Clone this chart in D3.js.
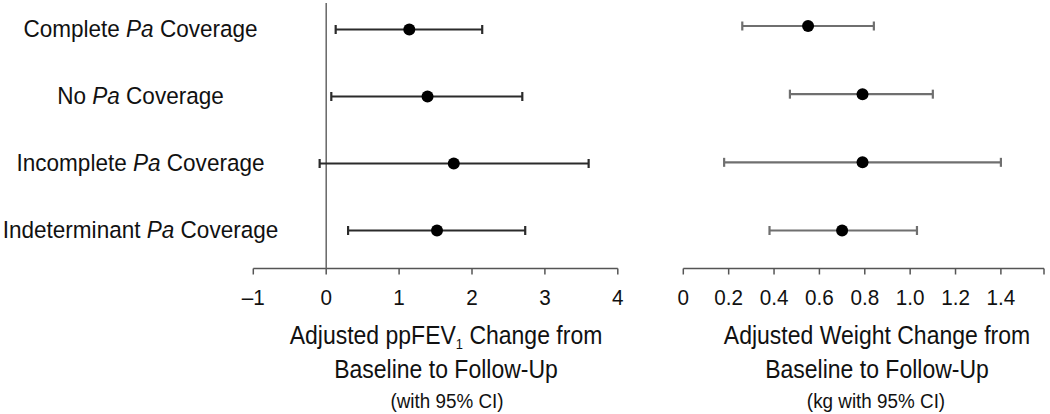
<!DOCTYPE html>
<html>
<head>
<meta charset="utf-8">
<script src="https://cdn.jsdelivr.net/npm/d3@7"></script>
<style>
  html, body { margin: 0; padding: 0; background: #fff; }
  svg { display: block; }
  text { font-family: "Liberation Sans", Arial, Helvetica, sans-serif; fill: #111; }
</style>
</head>
<body>
<svg id="chart" width="1050" height="414"></svg>
<script>
// ---- data ----
const categories = ["Complete", "No", "Incomplete", "Indeterminant"];
const fevEstimate = [1.14, 1.39, 1.75, 1.52];
const fevLower    = [0.13, 0.07, -0.09, 0.30];
const fevUpper    = [2.14, 2.69, 3.60, 2.73];
const wtEstimate  = [0.55, 0.79, 0.79, 0.70];
const wtLower     = [0.26, 0.47, 0.18, 0.38];
const wtUpper     = [0.84, 1.10, 1.40, 1.03];
const fevTicks = [-1, 0, 1, 2, 3, 4];
const fevTickLabels = ["\u20131", "0", "1", "2", "3", "4"];
const wtTicks = [0, 0.2, 0.4, 0.6, 0.8, 1.0, 1.2, 1.4];
const wtTickLabels = ["0", "0.2", "0.4", "0.6", "0.8", "1.0", "1.2", "1.4"];
const wtAxisMax = 1.59;

const svg = d3.select("#chart");
const axisY = 268.5;
const SX = 0.92; // horizontal condensing to mimic narrow font

function ctext(parent, x, y, size) {
  return parent.append("text")
    .attr("transform", `translate(${x},${y}) scale(${SX},1)`)
    .attr("text-anchor", "middle").style("font-size", size + "px");
}

// category labels
const yLeft = d3.scalePoint().domain(categories).range([29.5, 230.5]);
const yRight = d3.scalePoint().domain(categories).range([26, 230.5]);

const labG = svg.append("g");
categories.forEach(c => {
  const t = ctext(labG, 140.5, yLeft(c) + 7.5, 24.5);
  t.append("tspan").text(c + " ");
  t.append("tspan").style("font-style", "italic").text("Pa");
  t.append("tspan").text(" Coverage");
});

function panel(xScale, ticks, tickLabels, yScale, est, lo, hi, barColor, zeroLine, extraTicks) {
  const g = svg.append("g");
  const [r0, r1] = xScale.range();
  g.append("line").attr("x1", r0).attr("x2", r1).attr("y1", axisY).attr("y2", axisY)
    .attr("stroke", "#555").attr("stroke-width", 1.5);
  const allTicks = ticks.concat(extraTicks);
  g.selectAll(".tk").data(allTicks).join("line").attr("class", "tk")
    .attr("x1", d => xScale(d)).attr("x2", d => xScale(d))
    .attr("y1", axisY).attr("y2", axisY + 6)
    .attr("stroke", "#555").attr("stroke-width", 1.5);
  ticks.forEach((d, i) => {
    ctext(g, xScale(d), 305, 22.5).text(tickLabels[i]);
  });
  if (zeroLine) {
    g.append("line").attr("x1", xScale(0)).attr("x2", xScale(0))
      .attr("y1", 3).attr("y2", axisY)
      .attr("stroke", "#666").attr("stroke-width", 1.5);
  }
  const rows = g.selectAll(".row").data(categories).join("g").attr("class", "row");
  rows.append("line")
    .attr("x1", (d, i) => xScale(lo[i])).attr("x2", (d, i) => xScale(hi[i]))
    .attr("y1", d => yScale(d)).attr("y2", d => yScale(d))
    .attr("stroke", barColor).attr("stroke-width", 2.2);
  [lo, hi].forEach(arr => {
    rows.append("line")
      .attr("x1", (d, i) => xScale(arr[i])).attr("x2", (d, i) => xScale(arr[i]))
      .attr("y1", d => yScale(d) - 4.5).attr("y2", d => yScale(d) + 4.5)
      .attr("stroke", barColor).attr("stroke-width", 2.2);
  });
  rows.append("circle")
    .attr("cx", (d, i) => xScale(est[i])).attr("cy", d => yScale(d))
    .attr("r", 6).attr("fill", "#000");
}

const xFev = d3.scaleLinear().domain([-1, 4]).range([253.3, 617.8]);
panel(xFev, fevTicks, fevTickLabels, yLeft, fevEstimate, fevLower, fevUpper, "#2b2b2b", true, []);

const xWt = d3.scaleLinear().domain([0, wtAxisMax]).range([683.3, 1044]);
panel(xWt, wtTicks, wtTickLabels, yRight, wtEstimate, wtLower, wtUpper, "#6f6f6f", false, [wtAxisMax]);

// titles
const t1 = ctext(svg, 446, 344, 25);
t1.append("tspan").text("Adjusted ppFEV");
t1.append("tspan").style("font-size", "14px").attr("dy", 5).text("1");
t1.append("tspan").attr("dy", -5).text(" Change from");
ctext(svg, 446, 378, 25).text("Baseline to Follow-Up");
ctext(svg, 447, 408, 20.5).text("(with 95% CI)");

ctext(svg, 877, 344, 25).text("Adjusted Weight Change from");
ctext(svg, 877, 378, 25).text("Baseline to Follow-Up");
ctext(svg, 876, 408, 20.5).text("(kg with 95% CI)");
</script>
</body>
</html>
